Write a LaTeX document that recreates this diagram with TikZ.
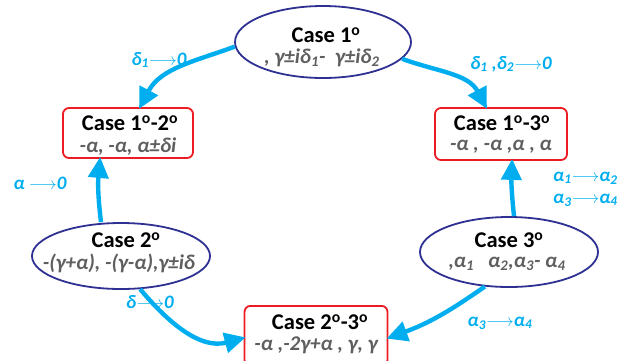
\documentclass[tikz,border=0pt]{standalone}
\usepackage{fontspec}
\setmainfont{Carlito}
\usetikzlibrary{arrows.meta,shapes.geometric}
\definecolor{cy}{RGB}{0,174,239}
\definecolor{navy}{RGB}{46,49,146}
\definecolor{rd}{RGB}{237,28,36}
\definecolor{gr}{RGB}{95,95,95}
\newcommand{\dg}{\textsuperscript{o}}
\newcommand{\sbs}[1]{\textsubscript{#1}}
\begin{document}
\begin{tikzpicture}[x=1pt,y=-1pt,
  ell/.style={ellipse,draw=navy,line width=1.8pt,fill=white,inner sep=0pt},
  box/.style={rectangle,rounded corners=6pt,draw=rd,line width=1.8pt,fill=white,inner sep=0pt},
  ttl/.style={font=\fontsize{22.5}{24}\selectfont\bfseries,inner sep=0pt},
  sbt/.style={font=\fontsize{21}{24}\selectfont\bfseries\itshape,text=gr,inner sep=0pt},
  arr/.style={cy,line width=4.4pt,-{Triangle[length=21pt,width=20pt]},shorten >=-2pt},
  lbl/.style={cy,font=\fontsize{19}{22}\selectfont\bfseries\itshape,inner sep=0pt}]
\useasboundingbox (0,0) rectangle (618,360);
% shapes
\node[ell,minimum width=176pt,minimum height=72pt] (c1) at (323,42) {};
\node[box,minimum width=130pt,minimum height=50pt] (c12) at (128,133) {};
\node[box,minimum width=132pt,minimum height=52pt] (c13) at (501,134) {};
\node[ell,minimum width=178pt,minimum height=66pt] (c2) at (121,256) {};
\node[ell,minimum width=178pt,minimum height=70pt] (c3) at (509,252) {};
\node[box,minimum width=143pt,minimum height=60pt,anchor=north] (c23) at (316,305) {};
% texts
\node[ttl] (c1a) at (326,35) {Case 1\dg};
\node[sbt] (c1b) at (322,58) {, γ±iδ\sbs{1}-\ \ γ±iδ\sbs{2}};
\node[ttl] (c12a) at (130,123) {Case 1\dg-2\dg};
\node[sbt] (c12b) at (128,147) {-α, -α,\ α±δi};
\node[ttl] (c13a) at (502,123) {Case 1\dg-3\dg};
\node[sbt] (c13b) at (501,147) {-α , -α ,α , α};
\node[ttl] (c2a) at (126,240) {Case 2\dg};
\node[sbt] (c2b) at (119,263) {-(γ+α), -(γ-α),γ±iδ};
\node[ttl] (c3a) at (509,240) {Case 3\dg};
\node[sbt] (c3b) at (507,264) {,α\sbs{1}\hspace{14pt}α\sbs{2},α\sbs{3}- α\sbs{4}};
\node[ttl] (c23a) at (320,322) {Case 2\dg-3\dg};
\node[sbt] (c23b) at (316,345) {-α ,-2γ+α , γ, γ};
% arrows
\draw[arr] (c1.183) to[out=200,in=62] ([xshift=12pt]c12.north);
\draw[arr] (c1.-12) to[out=-20,in=118] ([xshift=-15pt]c13.north);
\draw[arr] ([xshift=-20pt]c2.north) to[bend left=6] ([xshift=-28pt]c12.south);
\draw[arr] ([xshift=5pt]c3.north) to[bend left=4] ([xshift=11pt]c13.south);
\draw[arr] (c2.-60) to[out=-50,in=195] ([yshift=-2pt]c23.west);
\draw[arr] (c3.-125) to[out=215,in=20] ([yshift=-2pt]c23.east);
% labels
\node[lbl] (l1) at (159,60) {δ\sbs{1}$\longrightarrow$0};
\node[lbl] (l2) at (511,64) {δ\sbs{1} ,δ\sbs{2}$\longrightarrow$0};
\node[lbl] (l3) at (40,183) {α $\longrightarrow$0};
\node[lbl,anchor=west] (l4) at (553,178) {α\sbs{1}$\longrightarrow$α\sbs{2}};
\node[lbl,anchor=west] (l5) at (553,200) {α\sbs{3}$\longrightarrow$α\sbs{4}};
\node[lbl] (l6) at (150,302) {δ$\longrightarrow$0};
\node[lbl] (l7) at (500,323) {α\sbs{3}$\longrightarrow$α\sbs{4}};
\end{tikzpicture}
\end{document}
